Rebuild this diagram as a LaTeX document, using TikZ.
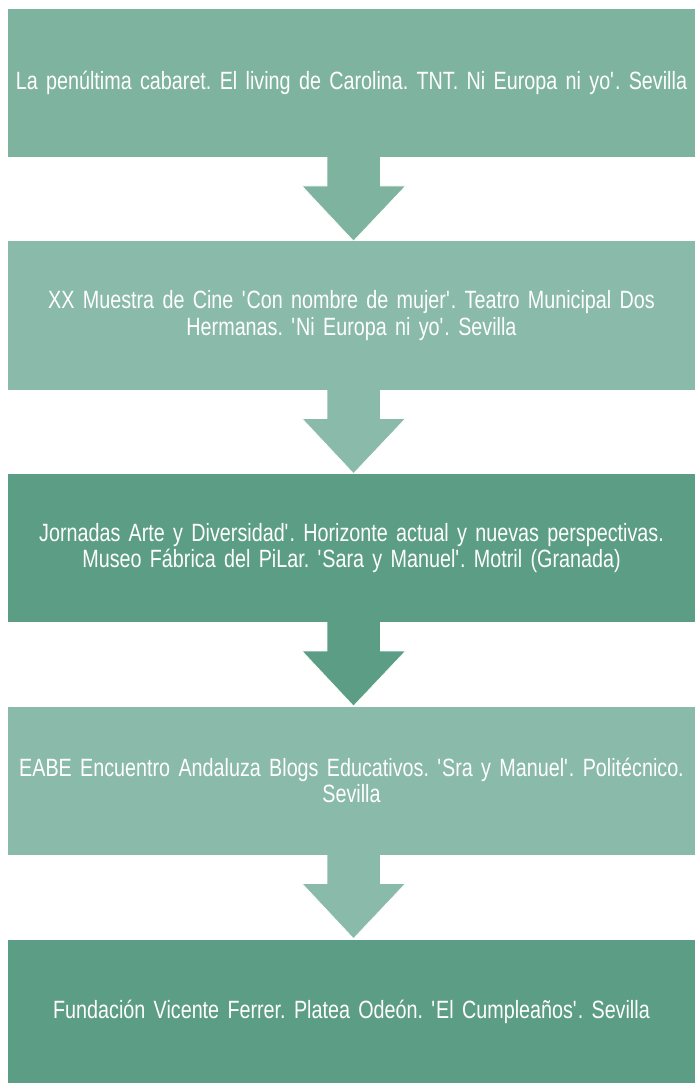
\documentclass[tikz,border=0pt]{standalone}
\usepackage{fontspec}
\setmainfont{Liberation Sans}[FakeStretch=0.79]
\usetikzlibrary{calc}
\definecolor{cA}{HTML}{7EB3A0}
\definecolor{cB}{HTML}{8ABAA9}
\definecolor{cC}{HTML}{5C9D86}
\newcommand{\sq}{\textquotesingle}
\tikzset{
  box/.style={rectangle, inner sep=0pt, minimum width=687pt, text width=684pt,
    align=center, text=white, font=\fontsize{25}{26.5}\selectfont\frenchspacing},
  blockarrow/.style={draw=white, line width=0.6pt, line join=round}
}
\begin{document}
\begin{tikzpicture}[x=1pt, y=-1pt]
\useasboundingbox (0,0) rectangle (695,1083);
% coordinates for arrows (connectors between boxes)
\coordinate (a1) at (353.5,157);
\coordinate (a2) at (353.5,389.5);
\coordinate (a3) at (353.5,622);
\coordinate (a4) at (353.5,854.5);
\foreach \a/\c in {a1/cA, a2/cB, a3/cC, a4/cB}{
  \path[fill=\c, blockarrow] ($(\a)+(-26.5,-4)$) -- ++(0,33) -- ++(-25,0) -- ++(51.5,55)
    -- ++(52,-55) -- ++(-25,0) -- ++(0,-33) -- cycle;
}
\node[box, fill=cA, minimum height=148pt] (b1) at (351.5,83)
  {La penúltima cabaret. El living de Carolina. TNT. Ni Europa ni yo\sq. Sevilla};
\node[box, fill=cB, minimum height=148pt] (b2) at (351.5,315.5)
  {XX Muestra de Cine \sq Con nombre de mujer\sq. Teatro Municipal Dos\\ Hermanas. \sq Ni Europa ni yo\sq. Sevilla};
\node[box, fill=cC, minimum height=148pt] (b3) at (351.5,548)
  {Jornadas Arte y Diversidad\sq. Horizonte actual y nuevas perspectivas.\\ Museo Fábrica del PiLar. \sq Sara y Manuel\sq. Motril (Granada)};
\node[box, fill=cB, minimum height=148pt] (b4) at (351.5,780.5)
  {EABE Encuentro Andaluza Blogs Educativos. \sq Sra y Manuel\sq. Politécnico.\\ Sevilla};
\node[box, fill=cC, minimum height=143pt] (b5) at (351.5,1011.5)
  {Fundación Vicente Ferrer. Platea Odeón. \sq El Cumpleaños\sq. Sevilla};
\end{tikzpicture}
\end{document}
